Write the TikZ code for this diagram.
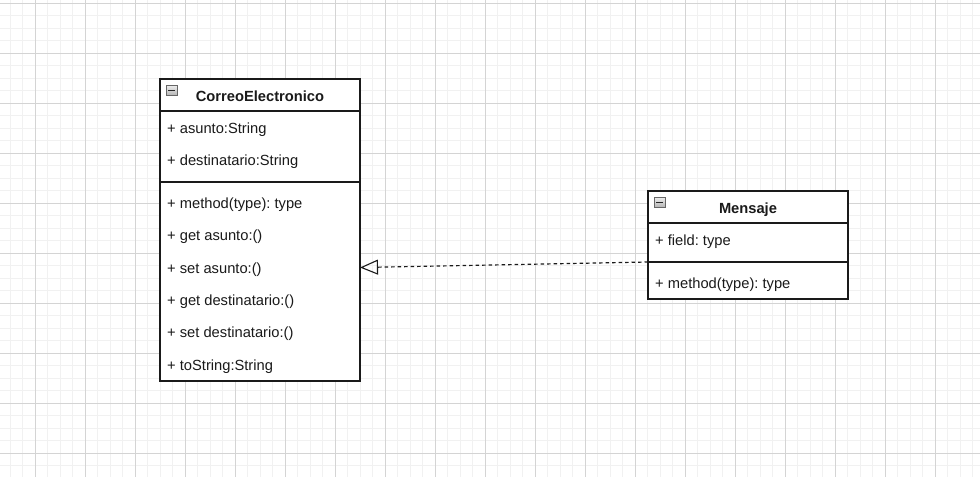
\documentclass[tikz,border=0pt]{standalone}
\usepackage{fontspec}
\setmainfont{Liberation Sans}
\usetikzlibrary{arrows.meta}
\definecolor{gridminor}{HTML}{F1F1F1}
\definecolor{gridmajor}{HTML}{D4D4D4}
\definecolor{ink}{HTML}{1A1A1A}
\frenchspacing
\begin{document}
\begin{tikzpicture}[x=1pt,y=-1pt,
  minor/.style={draw=gridminor,line width=0.8pt},
  major/.style={draw=gridmajor,line width=0.9pt},
  classbox/.style={draw=ink,line width=1.1pt,fill=white,inner sep=0pt,outer sep=0pt,anchor=north west},
  sep/.style={draw=ink,line width=1.1pt},
  attr/.style={anchor=west,inner sep=0pt,text=ink,font=\fontsize{14.7}{17}\selectfont},
  ctitle/.style={inner sep=0pt,text=ink,font=\fontsize{14.7}{17}\selectfont\bfseries},
  icon/.style={draw=gray!80!black,line width=0.6pt,top color=gray!15,bottom color=gray!60,minimum width=11pt,minimum height=10pt,inner sep=0pt},
  realize/.style={draw=ink,line width=1.2pt,dash pattern=on 3.5pt off 3pt,-{Triangle[open,length=18pt,width=15pt,line width=1.1pt]}}
]
\useasboundingbox (0,0) rectangle (980,477);
\fill[white] (0,0) rectangle (980,477);
\foreach \x in {10,22.5,...,980} \draw[minor] (\x,0) -- (\x,477);
\foreach \y in {3,15.5,...,477} \draw[minor] (0,\y) -- (980,\y);
\foreach \x in {35,85,...,980} \draw[major] (\x,0) -- (\x,477);
\foreach \y in {3,53,...,477} \draw[major] (0,\y) -- (980,\y);

% CorreoElectronico
\node[classbox,minimum width=200pt,minimum height=302pt] (ce) at (160,79) {};
\draw[sep] ([yshift=-32pt]ce.north west) -- ([yshift=-32pt]ce.north east);
\draw[sep] ([yshift=-103pt]ce.north west) -- ([yshift=-103pt]ce.north east);
\node[icon] (ceicon) at (171.5,90.5) {};
\draw[line width=1.1pt,black!85] ([xshift=-3.5pt]ceicon.center) -- ([xshift=3.5pt]ceicon.center);
\node[ctitle] (cetitle) at (260,96.5) {CorreoElectronico};
\node[attr] (ce1) at (167,129.5) {+ asunto:String};
\node[attr] (ce2) at (167,161.5) {+ destinatario:String};
\node[attr] (ce3) at (167,204.5) {+ method(type): type};
\node[attr] (ce4) at (167,237) {+ get asunto:()};
\node[attr] (ce5) at (167,269.5) {+ set asunto:()};
\node[attr] (ce6) at (167,301.5) {+ get destinatario:()};
\node[attr] (ce7) at (167,334) {+ set destinatario:()};
\node[attr] (ce8) at (167,366.5) {+ toString:String};

% Mensaje
\node[classbox,minimum width=200pt,minimum height=108pt] (ms) at (648,191) {};
\draw[sep] ([yshift=-32pt]ms.north west) -- ([yshift=-32pt]ms.north east);
\draw[sep] ([yshift=-71pt]ms.north west) -- ([yshift=-71pt]ms.north east);
\node[icon] (msicon) at (659.5,202.5) {};
\draw[line width=1.1pt,black!85] ([xshift=-3.5pt]msicon.center) -- ([xshift=3.5pt]msicon.center);
\node[ctitle] (mstitle) at (748,209.5) {Mensaje};
\node[attr] (ms1) at (655,242) {+ field: type};
\node[attr] (ms2) at (655,285) {+ method(type): type};

% realization
\coordinate (msout) at (648,262);
\coordinate (cein) at (360,267.5);
\draw[realize] (msout) -- (cein);
\end{tikzpicture}
\end{document}
